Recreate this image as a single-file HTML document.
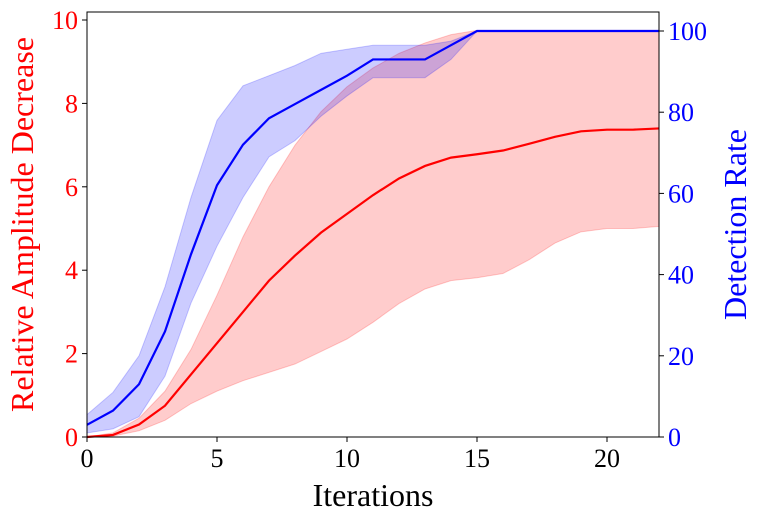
<!DOCTYPE html>
<html><head><meta charset="utf-8"><style>
body{margin:0;background:#fff;}
svg text{font-family:"Liberation Serif","DejaVu Serif",serif;}
</style></head><body>
<svg id="chart" width="761" height="524" xmlns="http://www.w3.org/2000/svg"></svg>
<script>
const iterations=[0,1,2,3,4,5,6,7,8,9,10,11,12,13,14,15,16,17,18,19,20,21,22];
const ampMean=[0,0.05,0.3,0.75,1.5,2.25,3.0,3.75,4.35,4.9,5.35,5.8,6.2,6.5,6.7,6.78,6.87,7.03,7.2,7.33,7.37,7.37,7.4];
const ampUpper=[0,0.1,0.45,1.1,2.1,3.4,4.8,6.0,7.0,7.8,8.4,8.85,9.2,9.45,9.65,9.75,9.75,9.75,9.75,9.75,9.75,9.75,9.75];
const ampLower=[0,0.02,0.15,0.4,0.8,1.1,1.35,1.55,1.75,2.05,2.35,2.75,3.2,3.55,3.75,3.82,3.92,4.25,4.65,4.92,5.0,5.0,5.05];
const detMean=[3,6.5,13,26,45,62,72,78.5,82,85.5,89,93,93,93,96.5,100,100,100,100,100,100,100,100];
const detUpper=[5.5,11,20,37,59,78,86.5,89,91.5,94.5,95.5,96.5,96.5,96.5,97.5,100,100,100,100,100,100,100,100];
const detLower=[1,2,5,15,33,47,59,69,73,79,84,88.5,88.5,88.5,93,100,100,100,100,100,100,100,100];
const xTicks=[0,5,10,15,20];
const yLeftTicks=[0,2,4,6,8,10];
const yRightTicks=[0,20,40,60,80,100];

const L=87,R=659,T=12,B=437;
const xS=v=>L+(v-0)/22*(R-L);
const yL=v=>B-v/10*(B-20);
const yR=v=>B-v/100*(B-31);
const svg=document.getElementById('chart');
const NS='http://www.w3.org/2000/svg';
function mk(tag,attrs,parent){const e=document.createElementNS(NS,tag);for(const k in attrs)e.setAttribute(k,attrs[k]);(parent||svg).appendChild(e);return e;}
function band(up,lo,ys){let p=iterations.map((x,i)=>xS(x)+','+ys(up[i]));p=p.concat(iterations.slice().reverse().map((x,j)=>{const i=iterations.length-1-j;return xS(x)+','+ys(lo[i]);}));return p.join(' ');}
function line(arr,ys){return iterations.map((x,i)=>xS(x)+','+ys(arr[i])).join(' ');}

const rb=mk('polygon',{points:band(ampUpper,ampLower,yL),fill:'rgba(255,0,0,0.2)',stroke:'rgba(255,0,0,0.2)'});


const rl=mk('polyline',{points:line(ampMean,yL),fill:'none',stroke:'#ff0000','stroke-width':2.2});


const bb=mk('polygon',{points:band(detUpper,detLower,yR),fill:'rgba(0,0,255,0.2)',stroke:'rgba(0,0,255,0.2)'});


const bl=mk('polyline',{points:line(detMean,yR),fill:'none',stroke:'#0000ff','stroke-width':2.2});



const fr=mk('rect',{x:L,y:T,width:R-L,height:B-T,fill:'none',stroke:'#000','stroke-width':1});



xTicks.forEach(v=>{mk('line',{x1:xS(v),x2:xS(v),y1:B,y2:B+5,stroke:'#000'});
const t=mk('text',{x:xS(v),y:B+30,'text-anchor':'middle','font-size':26,fill:'#000'});t.textContent=v;

});
yLeftTicks.forEach(v=>{mk('line',{x1:L-5,x2:L,y1:yL(v),y2:yL(v),stroke:'#000'});
const t=mk('text',{x:L-9,y:yL(v)+9,'text-anchor':'end','font-size':26,fill:'#ff0000'});t.textContent=v;

});
yRightTicks.forEach(v=>{mk('line',{x1:R,x2:R+5,y1:yR(v),y2:yR(v),stroke:'#000'});
const t=mk('text',{x:R+9,y:yR(v)+9,'text-anchor':'start','font-size':26,fill:'#0000ff'});t.textContent=v;

});

const xt=mk('text',{x:(L+R)/2,y:506,'text-anchor':'middle','font-size':32,fill:'#000'});xt.textContent='Iterations';


const yt=mk('text',{x:0,y:0,'text-anchor':'middle','font-size':32,fill:'#ff0000',transform:'translate(33,'+(T+B)/2+') rotate(-90)'});yt.textContent='Relative Amplitude Decrease';


const yt2=mk('text',{x:0,y:0,'text-anchor':'middle','font-size':32,fill:'#0000ff',transform:'translate(746,'+(T+B)/2+') rotate(-90)'});yt2.textContent='Detection Rate';


</script>
</body></html>
